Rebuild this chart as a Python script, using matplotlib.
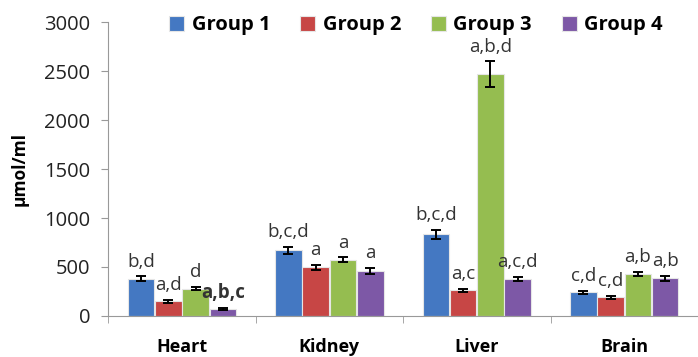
import numpy as np
import matplotlib.pyplot as plt

plt.rcParams['font.family'] = ['Open Sans', 'DejaVu Sans']

# Data: concentration per organ and group (mean, error)
organs = ['Heart', 'Kidney', 'Liver', 'Brain']
groups = ['Group 1', 'Group 2', 'Group 3', 'Group 4']

group1 = [380, 670, 835, 240]
group2 = [150, 495, 260, 190]
group3 = [280, 575, 2470, 430]
group4 = [70, 460, 380, 385]

group1_err = [25, 35, 45, 15]
group2_err = [15, 30, 15, 15]
group3_err = [15, 25, 130, 20]
group4_err = [10, 30, 20, 25]

group1_sig = ['b,d', 'b,c,d', 'b,c,d', 'c,d']
group2_sig = ['a,d', 'a', 'a,c', 'c,d']
group3_sig = ['d', 'a', 'a,b,d', 'a,b']
group4_sig = ['a,b,c', 'a', 'a,c,d', 'a,b']

colors = ['#4478c2', '#c74645', '#95bd50', '#7d58a6']

values = [group1, group2, group3, group4]
errors = [group1_err, group2_err, group3_err, group4_err]
sigs = [group1_sig, group2_sig, group3_sig, group4_sig]

fig = plt.figure(figsize=(6.98, 3.57), dpi=100)
ax = fig.add_axes([0.155, 0.115, 0.845, 0.823])

x = np.arange(len(organs))
width = 0.18
offsets = (np.arange(4) - 1.5) * (width + 0.005)

for i in range(4):
    ax.bar(x + offsets[i], values[i], width, color=colors[i],
           edgecolor='#e6e6e6', linewidth=0.8, label=groups[i], zorder=2)
    ax.errorbar(x + offsets[i], values[i], yerr=errors[i], fmt='none',
                ecolor='black', elinewidth=1.4, capsize=3.5, capthick=1.4, zorder=3)
    for j in range(len(organs)):
        bold = (i == 3 and j == 0)
        ax.annotate(sigs[i][j], (x[j] + offsets[i], values[i][j] + errors[i][j]),
                    xytext=(0, 4), textcoords='offset points', ha='center', va='bottom',
                    fontsize=13.5, color='#333333',
                    fontweight='bold' if bold else 'normal')

ax.set_xlim(-0.5, 3.5)
ax.set_ylim(0, 3000)
ax.set_yticks(range(0, 3001, 500))
ax.set_ylabel('µmol/ml', fontsize=12.5, fontweight='bold', labelpad=11)

# category labels centred, tick marks between categories
ax.set_xticks(x)
ax.set_xticklabels(organs, fontsize=13, fontweight='bold')
ax.tick_params(axis='x', length=0, pad=16)
ax.set_xticks(np.arange(-0.5, 4.0, 1.0), minor=True)
ax.tick_params(axis='x', which='minor', length=5, color='#999999')
ax.tick_params(axis='y', length=5, color='#999999', labelsize=14.5, pad=8, labelcolor='#222222')

for side in ['top', 'right']:
    ax.spines[side].set_visible(False)
ax.spines['left'].set_color('#999999')
ax.spines['bottom'].set_color('#999999')

leg = ax.legend(loc='upper center', bbox_to_anchor=(0.522, 1.085), ncol=4, frameon=False,
                handlelength=0.75, handleheight=0.75, handletextpad=0.35, columnspacing=1.5,
                prop={'weight': 'bold', 'size': 14.5})

fig.savefig('out.png', dpi=100)
